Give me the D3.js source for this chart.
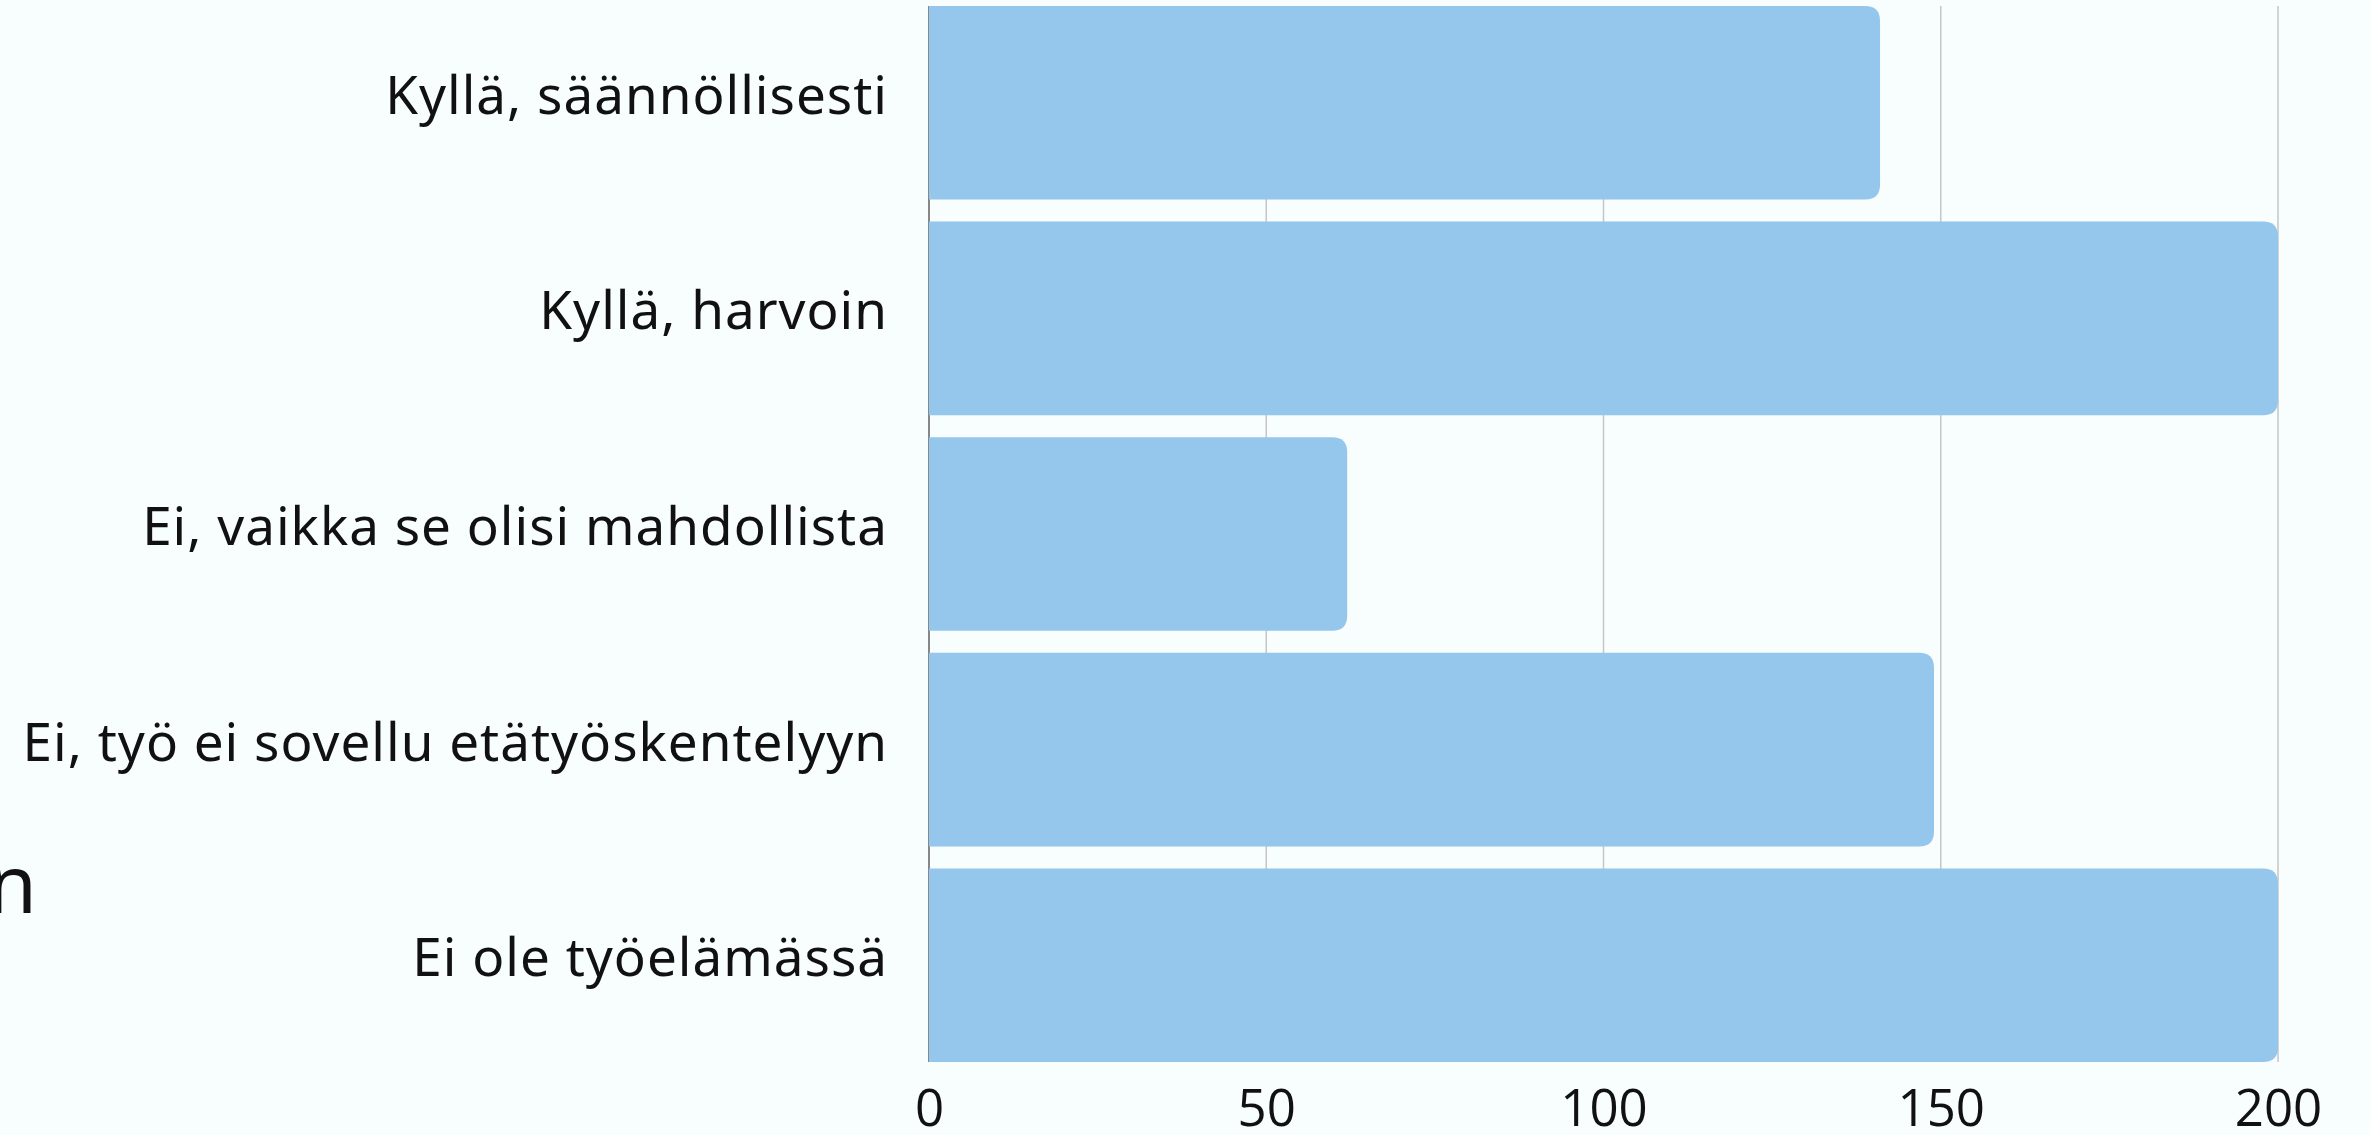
<!DOCTYPE html>
<html>
<head>
<meta charset="utf-8">
<script src="https://cdn.jsdelivr.net/npm/d3@7"></script>
<style>
  html, body { margin: 0; padding: 0; background: #f8fdfd; }
  svg { display: block; }
</style>
</head>
<body>
<div id="vis1"></div>
<script>
(function(){
  // answer categories and counts
  var categories = [
    "Kyllä, säännöllisesti",
    "Kyllä, harvoin",
    "Ei, vaikka se olisi mahdollista",
    "Ei, työ ei sovellu etätyöskentelyyn",
    "Ei ole työelämässä"
  ];
  var counts = [141, 200, 62, 149, 200];
  var xTicks = [0, 50, 100, 150, 200];

  var data = categories.map(function(c, i){ return { cat: c, val: counts[i] }; });

  var width = 2370;
  var height = 1135;

  var svg = d3.select("#vis1")
    .append('svg')
    .attr('width', width)
    .attr('height', height);

  svg.append('rect')
    .attr('width', width)
    .attr('height', height)
    .attr('fill', '#f8fdfd');

  var x_scale = d3.scaleLinear()
    .domain([0, 200])
    .range([929, 2278]);

  var y_scale = d3.scaleBand()
    .domain(categories)
    .range([6, 1062])
    .paddingInner(0.102)
    .paddingOuter(0);

  var top = y_scale.range()[0], bottom = y_scale.range()[1];

  // vertical grid lines
  svg.append('g')
    .attr('class', 'grid')
    .selectAll('line')
    .data(xTicks)
    .enter()
    .append('line')
    .attr('x1', function(d){ return x_scale(d); })
    .attr('x2', function(d){ return x_scale(d); })
    .attr('y1', top)
    .attr('y2', bottom)
    .attr('stroke', '#c6c6c6')
    .attr('stroke-width', 1.5);

  // darker zero line
  svg.append('line')
    .attr('x1', x_scale(0)).attr('x2', x_scale(0))
    .attr('y1', top).attr('y2', bottom)
    .attr('stroke', '#6e6e6e')
    .attr('stroke-width', 1.5);

  // bar with only the right corners rounded
  function barPath(d) {
    var x0 = x_scale(0), x1 = x_scale(d.val);
    var y0 = y_scale(d.cat), h = y_scale.bandwidth();
    var r = 15;
    return 'M' + x0 + ',' + y0 +
      'H' + (x1 - r) +
      'Q' + x1 + ',' + y0 + ' ' + x1 + ',' + (y0 + r) +
      'V' + (y0 + h - r) +
      'Q' + x1 + ',' + (y0 + h) + ' ' + (x1 - r) + ',' + (y0 + h) +
      'H' + x0 + 'Z';
  }

  svg.selectAll('.bar')
    .data(data)
    .enter()
    .append('path')
    .attr('class', 'bar')
    .attr('fill', '#95c6eb')
    .attr('d', barPath);

  // category labels
  svg.selectAll('.cat-label')
    .data(data)
    .enter()
    .append('text')
    .attr('class', 'cat-label')
    .attr('text-anchor', 'end')
    .attr('x', 888)
    .attr('y', function(d){ return y_scale(d.cat) + y_scale.bandwidth() / 2 + 11; })
    .attr('font-family', '"Noto Sans", "Open Sans", sans-serif')
    .attr('font-size', '53px')
    .attr('letter-spacing', '1px')
    .attr('fill', '#111')
    .text(function(d){ return d.cat; });

  // x axis labels
  var x_axis = d3.axisBottom(x_scale)
    .tickValues(xTicks)
    .tickSize(0)
    .tickPadding(0);

  var xg = svg.append('g')
    .attr('class', 'x axis')
    .attr('transform', 'translate(0,' + 1090 + ')')
    .call(x_axis);
  xg.select('.domain').remove();
  xg.selectAll('text')
    .attr('dy', '0.71em')
    .attr('y', 0)
    .attr('font-family', '"Open Sans", "Noto Sans", sans-serif')
    .attr('font-size', '51px')
    .attr('fill', '#111');

  // cut-off title fragment at the left edge
  svg.append('text')
    .attr('text-anchor', 'end')
    .attr('x', 37)
    .attr('y', 913)
    .attr('font-family', '"Noto Sans", sans-serif')
    .attr('font-weight', 400)
    .attr('font-size', '80px')
    .attr('fill', '#111')
    .text('n');
})();
</script>
</body>
</html>
